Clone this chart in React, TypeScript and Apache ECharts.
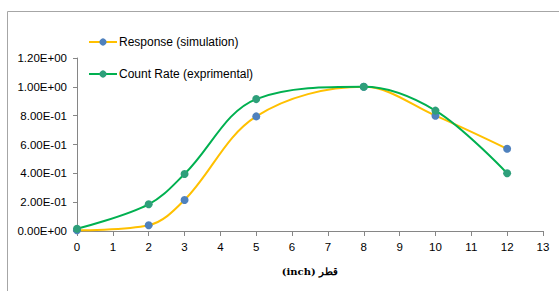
import React, { useEffect, useRef } from "react";
import * as echarts from "echarts";

const xValues = [0, 2, 3, 5, 8, 10, 12];
const responseSim = [0.005, 0.04, 0.215, 0.795, 1.0, 0.8, 0.57];
const countRate = [0.015, 0.185, 0.395, 0.915, 1.0, 0.835, 0.4];
const yTickLabels = ["0.00E+00", "2.00E-01", "4.00E-01", "6.00E-01", "8.00E-01", "1.00E+00", "1.20E+00"];
const seriesNames = ["Response (simulation)", "Count Rate (exprimental)"];
const xAxisName = "(inch) قطر";

export default function App() {
  const ref = useRef<HTMLDivElement>(null);
  useEffect(() => {
    if (!ref.current) return;
    const chart = echarts.init(ref.current, undefined, { renderer: "svg" });
    const font = "Liberation Sans, Arial, sans-serif";
    chart.setOption({
      animation: false,
      backgroundColor: "#fff",
      graphic: [
        {
          type: "rect",
          shape: { x: 7.5, y: 11.5, width: 700, height: 400 },
          style: { fill: "none", stroke: "#a6a6a6", lineWidth: 1 },
          silent: true,
        },
      ],
      grid: { left: 77, right: 16, top: 58, bottom: 60, containLabel: false },
      legend: {
        orient: "vertical",
        left: 83,
        top: 31,
        padding: 5,
        itemWidth: 28,
        itemHeight: 9,
        itemGap: 20,
        textStyle: { fontFamily: font, fontSize: 12, color: "#000", padding: [0, 0, 0, -3] },
        data: [
          { name: seriesNames[0], itemStyle: { color: "#4F81BD", borderWidth: 0 } },
          { name: seriesNames[1], itemStyle: { color: "#2E9F7A", borderWidth: 0 } },
        ],
      },
      xAxis: {
        type: "value",
        min: 0,
        max: 13,
        interval: 1,
        name: xAxisName,
        nameLocation: "middle",
        nameGap: 35,
        nameTextStyle: { fontFamily: "DejaVu Serif, serif", fontWeight: "bold", fontSize: 10, color: "#000" },
        axisLine: { lineStyle: { color: "#868686" } },
        axisTick: { lineStyle: { color: "#868686" }, length: 5 },
        axisLabel: { fontFamily: font, fontSize: 11.5, color: "#000", margin: 10 },
        splitLine: { show: false },
      },
      yAxis: {
        type: "value",
        min: 0,
        max: 1.2,
        interval: 0.2,
        axisLine: { show: true, lineStyle: { color: "#868686" } },
        axisTick: { show: true, lineStyle: { color: "#868686" }, length: 4 },
        axisLabel: {
          fontFamily: font,
          fontSize: 11.5,
          color: "#000",
          margin: 10,
          formatter: (v: number) => yTickLabels[Math.round(v / 0.2)] ?? "",
        },
        splitLine: { show: false },
      },
      series: [
        {
          name: seriesNames[0],
          type: "line",
          smooth: 0.35,
          data: xValues.map((x, i) => [x, responseSim[i]]),
          symbol: "circle",
          symbolSize: 8,
          lineStyle: { color: "#FFC000", width: 2 },
          itemStyle: { color: "#4F81BD", borderColor: "#4F81BD", borderWidth: 0 },
          z: 2,
        },
        {
          name: seriesNames[1],
          type: "line",
          smooth: 0.35,
          data: xValues.map((x, i) => [x, countRate[i]]),
          symbol: "circle",
          symbolSize: 8,
          lineStyle: { color: "#00B050", width: 2 },
          itemStyle: { color: "#2E9F7A", borderWidth: 0 },
          z: 3,
        },
      ],
    });
    return () => chart.dispose();
  }, []);
  return (
    <div
      ref={ref}
      style={{ position: "fixed", left: 0, top: 0, width: 559, height: 291 }}
    />
  );
}
